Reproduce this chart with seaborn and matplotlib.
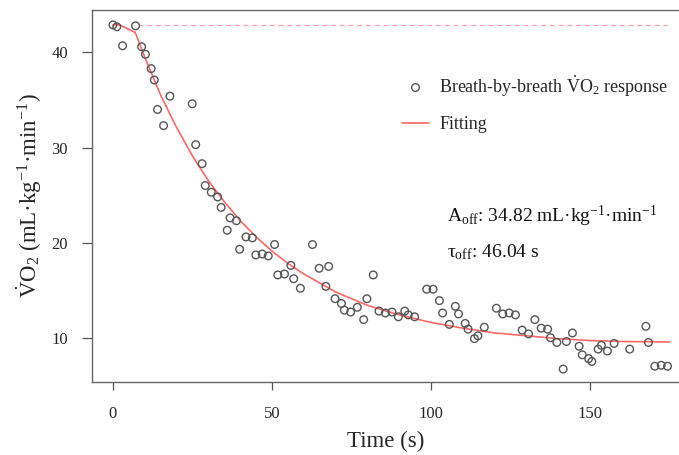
import pandas as pd
import seaborn as sns
import matplotlib.pyplot as plt
from matplotlib.lines import Line2D

# breath-by-breath VO2 readings (time in s, VO2 in mL/kg/min)
time_s = [0.0, 1.2, 3.0, 7.1, 9.0, 10.2, 12.0, 13.0, 14.0, 15.9, 17.9, 24.9, 26.0, 28.0,
          29.0, 30.9, 32.9, 34.0, 35.9, 36.8, 38.8, 39.8, 41.8, 43.8, 44.9, 46.9, 48.8,
          50.8, 51.8, 53.9, 55.9, 56.8, 58.9, 62.7, 64.8, 66.9, 67.8, 69.8, 71.8, 72.7,
          74.7, 76.8, 78.8, 79.8, 81.8, 83.6, 85.6, 87.7, 89.7, 91.7, 92.8, 94.8, 98.6,
          100.6, 102.6, 103.6, 105.7, 107.6, 108.6, 110.7, 111.6, 113.6, 114.7, 116.7,
          120.5, 122.5, 124.5, 126.5, 128.6, 130.6, 132.6, 134.6, 136.6, 137.5, 139.5,
          141.5, 142.5, 144.4, 146.5, 147.5, 149.5, 150.5, 152.5, 153.5, 155.4, 157.5,
          162.4, 167.5, 168.3, 170.3, 172.3, 174.3]
vo2 = [42.9, 42.7, 40.7, 42.8, 40.6, 39.8, 38.3, 37.1, 34.0, 32.3, 35.4, 34.6, 30.3, 28.3,
       26.0, 25.3, 24.8, 23.7, 21.3, 22.6, 22.3, 19.3, 20.6, 20.5, 18.7, 18.8, 18.6,
       19.8, 16.6, 16.7, 17.6, 16.2, 15.2, 19.8, 17.3, 15.4, 17.5, 14.1, 13.6, 12.9,
       12.7, 13.2, 11.9, 14.1, 16.6, 12.8, 12.6, 12.7, 12.2, 12.8, 12.4, 12.2, 15.1,
       15.1, 13.9, 12.6, 11.4, 13.3, 12.5, 11.5, 10.9, 9.9, 10.2, 11.1,
       13.1, 12.5, 12.6, 12.4, 10.8, 10.4, 11.9, 11.0, 10.9, 10.0, 9.5,
       6.7, 9.6, 10.5, 9.1, 8.2, 7.8, 7.5, 8.8, 9.2, 8.6, 9.4,
       8.8, 11.2, 9.5, 7.0, 7.1, 7.0]

# fitted curve
fit_t = [0, 2, 7, 10, 15, 20, 25, 30, 35, 40, 45, 50, 55, 60, 70, 80, 90, 100, 110,
         120, 130, 140, 150, 160, 175]
fit_vo2 = [42.9, 42.9, 42.1, 39.5, 35.5, 32.1, 29.1, 26.5, 24.3, 22.3, 20.6, 19.1, 17.8,
           16.7, 14.8, 13.4, 12.4, 11.6, 11.0, 10.5, 10.2, 9.9, 9.7, 9.6, 9.55]

baseline_t = [8, 174]
baseline_vo2 = [42.9, 42.9]

df = pd.DataFrame({"t": time_s, "vo2": vo2})
fit_df = pd.DataFrame({"t": fit_t, "vo2": fit_vo2})
base_df = pd.DataFrame({"t": baseline_t, "vo2": baseline_vo2})

sns.set_style("ticks")
plt.rcParams["font.family"] = ["Liberation Serif", "DejaVu Serif"]
plt.rcParams["mathtext.fontset"] = "custom"
plt.rcParams["mathtext.rm"] = "Liberation Serif"
plt.rcParams["mathtext.it"] = "Liberation Serif:italic"

fig = plt.figure(figsize=(6.79, 4.55), dpi=100)
ax = fig.add_axes([0.135, 0.1604, 0.865, 0.8176])

fit_color = "#ff6666"
sns.lineplot(data=base_df, x="t", y="vo2", ax=ax, color="#f5a0ac", lw=0.9,
             linestyle=(0, (4, 3)))
sns.lineplot(data=fit_df, x="t", y="vo2", ax=ax, color=fit_color, lw=1.2)
sns.scatterplot(data=df, x="t", y="vo2", ax=ax, s=30, facecolor="none",
                edgecolor="#555555", linewidth=1.0, zorder=3)

ax.set_xlim(-6.7, 177.9)
ax.set_ylim(5.34, 44.46)
ax.set_xticks([0, 50, 100, 150])
ax.set_yticks([10, 20, 30, 40])
ax.tick_params(axis="x", length=5.5, width=0.9, color="#555555", pad=12, labelsize=12)
ax.tick_params(axis="y", length=7, width=0.9, color="#555555", pad=10, labelsize=12)
for side in ["left", "bottom", "top"]:
    ax.spines[side].set_color("#666666")
    ax.spines[side].set_linewidth(1.0)
ax.spines["right"].set_visible(False)

ax.set_xlabel("Time (s)", fontsize=16.5, labelpad=6)
ax.set_ylabel(r"$\dot{\mathrm{V}}\mathrm{O}_2$ (mL·kg$^{-1}$·min$^{-1}$)", fontsize=16.5, labelpad=5)

ax.text(105, 22.8, r"A$_{\mathrm{off}}$: 34.82 mL·kg$^{-1}$·min$^{-1}$", fontsize=14,
        va="center", ha="left", color="#111111")
ax.text(105, 19.0, r"τ$_{\mathrm{off}}$: 46.04 s", fontsize=14,
        va="center", ha="left", color="#111111")

handles = [
    Line2D([], [], marker="o", ls="none", mfc="none", mec="#555555", ms=5.5, mew=1.0),
    Line2D([], [], color=fit_color, lw=1.2),
]
labels = [r"Breath-by-breath $\dot{\mathrm{V}}\mathrm{O}_2$ response", "Fitting"]
ax.legend(handles, labels, loc="upper left", bbox_to_anchor=(0.5, 0.872), frameon=False,
          fontsize=13, labelspacing=0.95, handlelength=1.5, handletextpad=0.6)

fig.savefig("out.png", dpi=100)
